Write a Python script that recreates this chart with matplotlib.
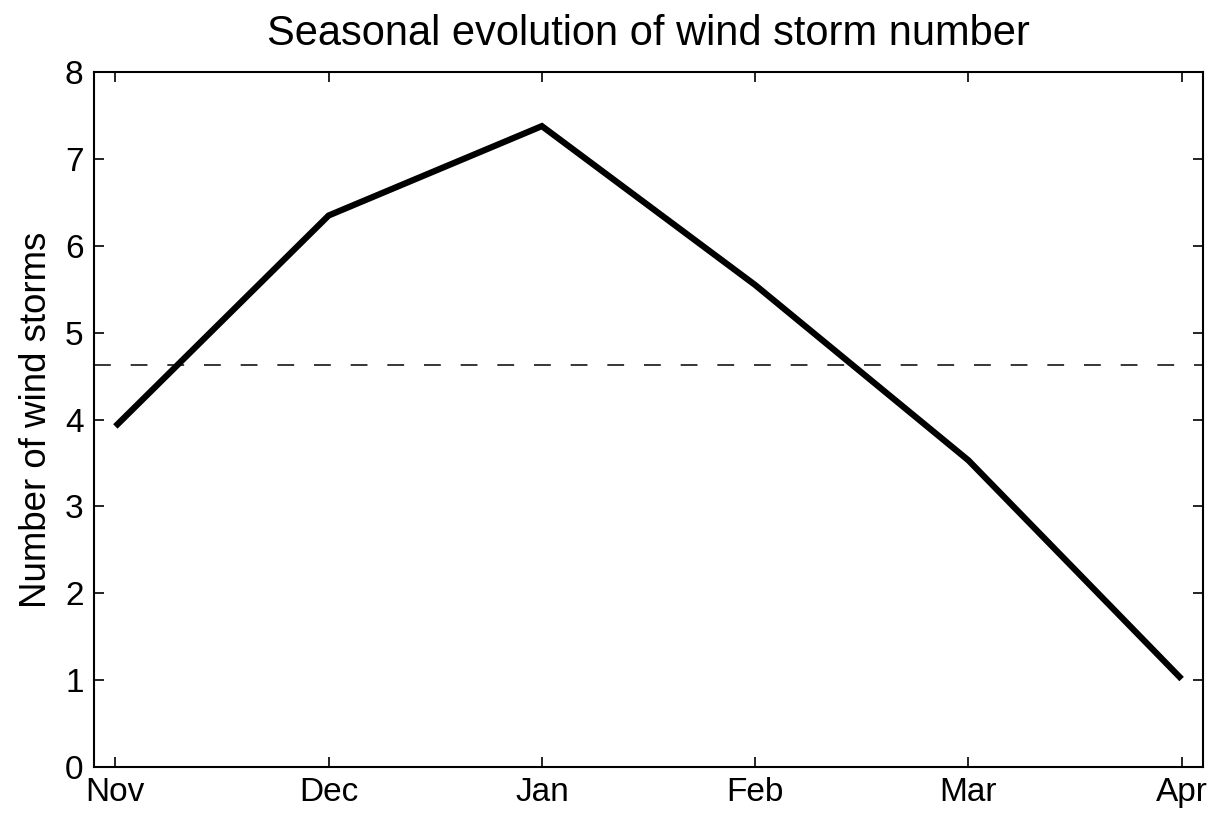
import matplotlib
matplotlib.use("Agg")
import matplotlib.pyplot as plt
import numpy as np

months = ["Nov", "Dec", "Jan", "Feb", "Mar", "Apr"]
storm_counts = [3.92, 6.35, 7.38, 5.55, 3.53, 1.01]
y_ticks = [0, 1, 2, 3, 4, 5, 6, 7, 8]

plt.rcParams["font.family"] = ["Liberation Sans", "DejaVu Sans"]

fig = plt.figure(figsize=(12.26, 8.16), dpi=100)
ax = fig.add_axes([0.0767, 0.0604, 0.9045, 0.851])

x = np.arange(len(months))
ax.plot(x, storm_counts, color="black", linewidth=4.5,
        solid_joinstyle="miter", solid_capstyle="butt")
# seasonal mean as a dashed reference line
ax.axhline(np.mean(storm_counts), color="black", linewidth=1.1,
           linestyle=(0, (11.0, 13.0)))

ax.set_xlim(-0.1, len(months) - 1 + 0.1)
ax.set_ylim(0, 8)
ax.set_xticks(x)
ax.set_xticklabels(months)
ax.set_yticks(y_ticks)

ax.tick_params(direction="in", length=7, width=1.2, labelsize=24,
               top=True, right=True, pad=7.5)
for s in ax.spines.values():
    s.set_linewidth(1.5)

ax.set_ylabel("Number of wind storms", fontsize=26.4, labelpad=8)
ax.set_title("Seasonal evolution of wind storm number", fontsize=30, pad=20)

fig.savefig("out.png", dpi=100)
